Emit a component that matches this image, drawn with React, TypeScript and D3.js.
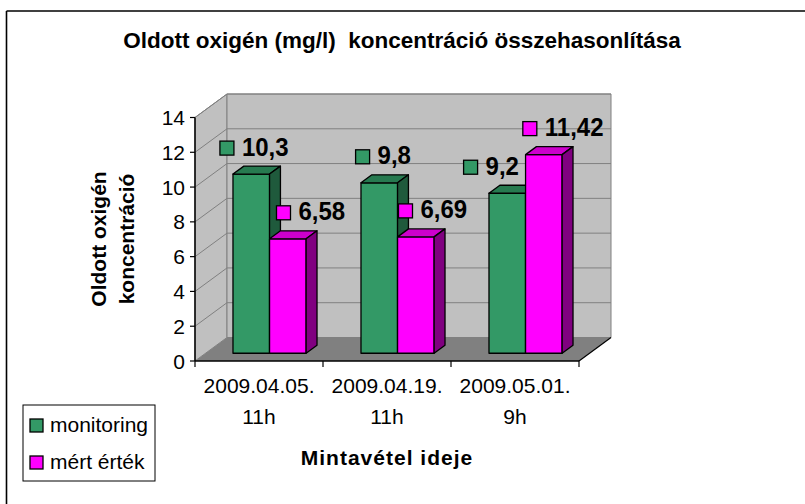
import React from "react";
import * as d3 from "d3";

// ---- data ----
const categoryDates = ["2009.04.05.", "2009.04.19.", "2009.05.01."];
const categoryHours = ["11h", "11h", "9h"];
const seriesNames = ["monitoring", "mért érték"];
const monitoringValues = [10.3, 9.8, 9.2];
const measuredValues = [6.58, 6.69, 11.42];
const yTickValues = [0, 2, 4, 6, 8, 10, 12, 14];
const chartTitle = "Oldott oxigén (mg/l)  koncentráció összehasonlítása";
const yTitleLines = ["Oldott oxigén", "koncentráció"];
const xTitle = "Mintavétel ideje";

// ---- layout / style ----
const W = 805;
const H = 504;
const FONT = "'Liberation Sans', Arial, Helvetica, sans-serif";
const DEPTH = { dx: 32, dy: -23.5 };
const BAR_T0 = 0.33;
const BAR_T1 = 0.67;
// manual nudges of the data labels (px, horizontal), per series per category
const labelNudge = [
  [3, 4, -16],
  [23, 17, 20],
];
const COLORS = [
  { front: "#339966", top: "#277a50", side: "#1f5a3c", key: "#339966" },
  { front: "#ff00ff", top: "#cc00cc", side: "#800080", key: "#ff00ff" },
];

export default function App() {
  const allSeries = [monitoringValues, measuredValues];
  const x0 = d3
    .scaleBand<number>()
    .domain(categoryDates.map((_, i) => i))
    .range([195, 579])
    .paddingInner(0)
    .paddingOuter(0);
  const bw = x0.bandwidth();
  const gap = (bw / 3.5) * 0.75;
  const x1 = d3
    .scaleBand<number>()
    .domain(seriesNames.map((_, i) => i))
    .range([gap, bw - gap]);
  const y = d3.scaleLinear().domain([0, 14]).range([361, 117.5]);

  const left = x0.range()[0];
  const right = x0.range()[1];
  const y0 = y(0);
  const yTop = y(14);
  const { dx, dy } = DEPTH;

  const pts = (arr: number[][]) => arr.map((p) => p.join(",")).join(" ");

  const sideWall = pts([
    [left, yTop],
    [left + dx, yTop + dy],
    [left + dx, y0 + dy],
    [left, y0],
  ]);
  const backWall = pts([
    [left + dx, yTop + dy],
    [right + dx, yTop + dy],
    [right + dx, y0 + dy],
    [left + dx, y0 + dy],
  ]);
  const floor = pts([
    [left, y0],
    [left + dx, y0 + dy],
    [right + dx, y0 + dy],
    [right, y0],
  ]);

  const bars: React.ReactNode[] = [];
  const labels: React.ReactNode[] = [];
  categoryDates.forEach((_, ci) => {
    allSeries.forEach((vals, si) => {
      const v = vals[ci];
      const c = COLORS[si];
      const ox = dx * BAR_T0;
      const oy = dy * BAR_T0;
      const bx = dx * (BAR_T1 - BAR_T0);
      const by = dy * (BAR_T1 - BAR_T0);
      const xl = (x0(ci) as number) + (x1(si) as number) + ox;
      const xr = xl + x1.bandwidth();
      const yb = y0 + oy;
      const yt = y(v) + oy;
      bars.push(
        <g key={`b${ci}-${si}`} stroke="#000" strokeWidth={1.3} strokeLinejoin="round">
          <polygon points={pts([[xl, yt], [xr, yt], [xr, yb], [xl, yb]])} fill={c.front} />
          <polygon points={pts([[xl, yt], [xl + bx, yt + by], [xr + bx, yt + by], [xr, yt]])} fill={c.top} />
          <polygon points={pts([[xr, yt], [xr + bx, yt + by], [xr + bx, yb + by], [xr, yb]])} fill={c.side} />
        </g>
      );
      const txt = String(v).replace(".", ",");
      const fs = 24;
      const tw = txt.length * fs * 0.556 - (fs * 0.556 - fs * 0.278);
      const sq = 14;
      const g = 8;
      const total = sq + g + tw;
      const cx = (xl + xr) / 2 + labelNudge[si][ci];
      const cy = yt - 27;
      const lx = cx - total / 2;
      labels.push(
        <g key={`l${ci}-${si}`}>
          <rect x={lx} y={cy - sq / 2 + 1} width={sq} height={sq} fill={c.key} stroke="#000" strokeWidth={1.3} />
          <text
            x={lx + sq + g}
            y={cy + 8.5}
            fontFamily={FONT}
            fontWeight="bold"
            fontSize={fs}
            fill="#000"
            transform={`translate(0,${cy + 8.5}) scale(1,1.08) translate(0,${-(cy + 8.5)})`}
          >
            {txt}
          </text>
        </g>
      );
    });
  });

  return (
    <svg
      width={W}
      height={H}
      viewBox={`0 0 ${W} ${H}`}
      style={{ position: "absolute", left: 0, top: 0, background: "#fff" }}
    >
      <rect x={0} y={0} width={W} height={H} fill="#fff" />
      {/* frame */}
      <line x1={6.5} y1={11} x2={W} y2={11} stroke="#000" strokeWidth={1.6} />
      <line x1={6.5} y1={11} x2={6.5} y2={H} stroke="#000" strokeWidth={1.6} />

      {/* title */}
      <text
        x={402}
        y={48}
        textAnchor="middle"
        fontFamily={FONT}
        fontWeight="bold"
        fontSize={22.5}
        style={{ whiteSpace: "pre" }}
      >
        {chartTitle}
      </text>

      {/* walls */}
      <polygon points={sideWall} fill="#c0c0c0" stroke="#808080" strokeWidth={1} />
      <polygon points={backWall} fill="#c0c0c0" stroke="#808080" strokeWidth={1} />
      {yTickValues.slice(1).map((t) => (
        <g key={`g${t}`} stroke="#808080" strokeWidth={1}>
          <line x1={left + dx} y1={y(t) + dy} x2={right + dx} y2={y(t) + dy} />
          <line x1={left} y1={y(t)} x2={left + dx} y2={y(t) + dy} />
        </g>
      ))}
      <polygon points={floor} fill="#808080" stroke="none" />
      <line x1={right} y1={y0} x2={right + dx} y2={y0 + dy} stroke="#000" strokeWidth={1.2} />

      {/* bars */}
      {bars}

      {/* axes */}
      <line x1={left} y1={yTop} x2={left} y2={y0} stroke="#000" strokeWidth={1.5} />
      <line x1={left} y1={y0} x2={right} y2={y0} stroke="#000" strokeWidth={1.5} />
      {yTickValues.map((t) => (
        <g key={`yt${t}`}>
          <line x1={left - 5} y1={y(t)} x2={left} y2={y(t)} stroke="#000" strokeWidth={1.2} />
          <text
            x={left - 10}
            y={y(t)}
            dy="0.36em"
            textAnchor="end"
            fontFamily={FONT}
            fontSize={21}
          >
            {t}
          </text>
        </g>
      ))}
      {[...categoryDates.map((_, i) => x0(i) as number), right].map((xx, i) => (
        <line key={`xt${i}`} x1={xx} y1={y0} x2={xx} y2={y0 + 6} stroke="#000" strokeWidth={1.2} />
      ))}
      {categoryDates.map((d, i) => {
        const cx = (x0(i) as number) + bw / 2;
        return (
          <g key={`xl${i}`} fontFamily={FONT} fontSize={21} textAnchor="middle">
            <text x={cx} y={393}>{d}</text>
            <text x={cx} y={424}>{categoryHours[i]}</text>
          </g>
        );
      })}

      {/* axis titles */}
      <text
        x={387}
        y={465}
        textAnchor="middle"
        fontFamily={FONT}
        fontWeight="bold"
        fontSize={21}
        letterSpacing={1}
      >
        {xTitle}
      </text>
      <g transform="translate(0,239) rotate(-90)" fontFamily={FONT} fontWeight="bold" fontSize={21} textAnchor="middle">
        <text x={0} y={106}>{yTitleLines[0]}</text>
        <text x={0} y={134}>{yTitleLines[1]}</text>
      </g>

      {/* data labels */}
      {labels}

      {/* legend */}
      <rect x={23} y={405} width={132} height={76} fill="#fff" stroke="#000" strokeWidth={1} />
      {seriesNames.map((n, i) => (
        <g key={`lg${i}`}>
          <rect x={30} y={419 + i * 37} width={13} height={13} fill={COLORS[i].key} stroke="#000" strokeWidth={1.3} />
          <text x={50} y={432 + i * 37} fontFamily={FONT} fontSize={21}>
            {n}
          </text>
        </g>
      ))}
    </svg>
  );
}
